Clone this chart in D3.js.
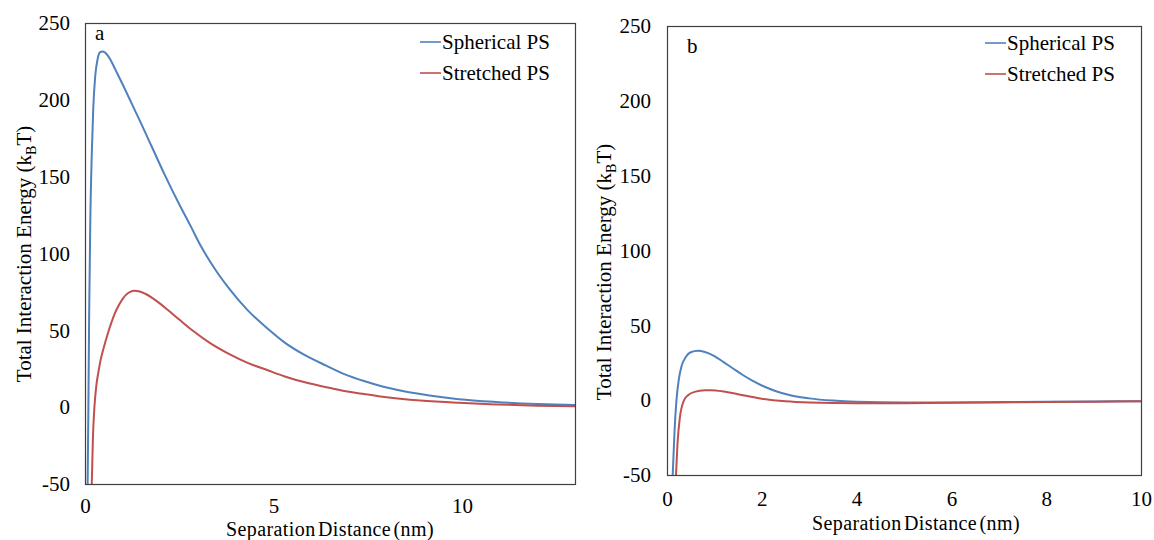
<!DOCTYPE html>
<html><head><meta charset="utf-8">
<script src="https://cdn.jsdelivr.net/npm/d3@7"></script>
<style>body{margin:0;background:#fff}svg{display:block}text{font-family:"Liberation Serif","Times New Roman",serif;fill:#000}</style>
</head><body><svg id="c" width="1154" height="540"></svg>
<script>
// ---- data ----
const seriesNames = ["Spherical PS", "Stretched PS"];
const seriesColors = ["#4F81BD", "#C0504D"];
const yTicks = [-50, 0, 50, 100, 150, 200, 250];
const xTicksA = [0, 5, 10];
const xTicksB = [0, 2, 4, 6, 8, 10];

// Panel a
const aSphX = [0.07,0.09,0.11,0.14,0.18,0.22,0.27,0.33,0.40,0.47,0.60,0.69,0.80,1.0,1.25,1.5,1.8,2.1,2.5,2.82,3.07,3.5,3.83,4.3,4.85,5.3,5.86,6.4,6.88,7.4,7.89,8.9,9.92,10.9,12,13];
const aSphY = [-50,0,60,120,165,195,215,226,231,231.5,229,225.5,220,210,197,184,168,152,132,117,105,88,77,63.5,51,42,33.5,27,21.5,17,13.5,8.5,5.2,3.4,2.1,1.4];
const aStrX = [0.18,0.21,0.25,0.30,0.35,0.40,0.50,0.60,0.70,0.80,0.90,1.0,1.1,1.2,1.3,1.45,1.6,1.8,2.0,2.2,2.5,2.82,3.3,3.83,4.3,4.85,5.3,5.86,6.4,6.88,7.4,7.89,8.9,9.92,10.9,12,13];
const aStrY = [-50,-20,0,14,22,29,39,47.5,55,61.5,66.5,70.5,73.4,75,75.7,75.3,73.8,70.8,67.2,63.2,57,50.5,42,34.5,29,24,20,16,13,10.5,8.5,6.8,4.3,2.8,1.8,1,0.6];

// Panel b
const bSphX = [0.12,0.16,0.20,0.25,0.30,0.40,0.50,0.65,0.80,1.0,1.2,1.4,1.6,1.8,2.0,2.3,2.6,3.0,3.5,4,5,6,7,8,9,10];
const bSphY = [-50,-20,0,14,22,29,32,33,32.2,29.5,25.3,21,16.8,13,9.8,6,3.3,1.2,-0.3,-1.1,-1.6,-1.5,-1.3,-1.1,-0.9,-0.7];
const bStrX = [0.19,0.22,0.27,0.36,0.45,0.60,0.80,0.93,1.2,1.5,2.0,2.5,3,4,5,6,7,8,9,10];
const bStrY = [-50,-30,-12,0,3.5,5.7,6.6,6.7,5.8,4,1,-0.8,-1.6,-2.1,-2,-1.8,-1.5,-1.2,-1,-0.8];

const svg = d3.select("#c");
const FS = 21;
const fmt = d => String(d);

function panel(cfg) {
  const x = d3.scaleLinear().domain(cfg.xDomain).range([cfg.l, cfg.r]);
  const y = d3.scaleLinear().domain([-50, 250]).range([cfg.b, cfg.t]);
  const g = svg.append("g");
  const clipId = "clip" + cfg.id;
  svg.append("clipPath").attr("id", clipId).append("rect")
    .attr("x", cfg.l).attr("y", cfg.t).attr("width", cfg.r - cfg.l).attr("height", cfg.b - cfg.t);

  const ya = g.append("g").attr("transform", `translate(${cfg.l},0)`)
    .call(d3.axisLeft(y).tickValues(yTicks).tickSize(0).tickPadding(cfg.yPad).tickFormat(fmt));
  ya.select(".domain").remove();
  ya.selectAll("text").style("font-family", '"Liberation Serif",serif').style("font-size", FS + "px").attr("fill", "#000");

  const xa = g.append("g").attr("transform", `translate(0,${cfg.b})`)
    .call(d3.axisBottom(x).tickValues(cfg.xTicks).tickSize(0).tickPadding(cfg.xPad).tickFormat(fmt));
  xa.select(".domain").remove();
  xa.selectAll("text").style("font-family", '"Liberation Serif",serif').style("font-size", FS + "px").attr("fill", "#000");

  const line = d3.line().x(d => x(d[0])).y(d => y(d[1])).curve(d3.curveMonotoneX);
  cfg.series.forEach((s, i) => {
    const pts = s.xs.map((v, k) => [v, s.ys[k]]);
    g.append("path").datum(pts).attr("d", line).attr("fill", "none")
      .attr("stroke", seriesColors[i]).attr("stroke-width", 2).attr("clip-path", `url(#${clipId})`);
  });

  g.append("rect").attr("x", cfg.l + 0.5).attr("y", cfg.t + 0.5)
    .attr("width", cfg.r - cfg.l).attr("height", cfg.b - cfg.t)
    .attr("fill", "none").attr("stroke", "#404040").attr("stroke-width", 1.2);

  seriesNames.forEach((n, i) => {
    const ly = cfg.legY[i];
    g.append("line").attr("x1", cfg.legX).attr("x2", cfg.legX + 21).attr("y1", ly).attr("y2", ly)
      .attr("stroke", seriesColors[i]).attr("stroke-width", 1.6);
    g.append("text").attr("x", cfg.legX + 22).attr("y", ly).attr("dy", "0.33em")
      .style("font-size", FS + "px").text(n);
  });

  g.append("text").attr("x", cfg.letter[0]).attr("y", cfg.letter[1]).style("font-size", FS + "px").text(cfg.id);

  g.append("text").attr("x", cfg.xTitle[0]).attr("y", cfg.xTitle[1]).attr("text-anchor", "middle")
    .style("font-size", "20px").style("letter-spacing", "0.4px").style("word-spacing", "-3px")
    .text("Separation Distance (nm)");
  const yt = g.append("text").attr("transform", `translate(${cfg.yTitle[0]},${cfg.yTitle[1]}) rotate(-90)`)
    .attr("text-anchor", "middle").attr("dy", "0.33em").style("font-size", FS + "px");
  yt.append("tspan").text("Total Interaction Energy (k");
  yt.append("tspan").text("B").style("font-size", "14px").attr("dy", "5");
  yt.append("tspan").text("T)").attr("dy", "-5");
}

panel({
  id: "a", l: 85, r: 575, t: 23, b: 484, xDomain: [0, 13], xTicks: xTicksA, yPad: 15, xPad: 14,
  series: [{xs: aSphX, ys: aSphY}, {xs: aStrX, ys: aStrY}],
  legX: 420, legY: [42, 73], letter: [95, 40], xTitle: [330, 535.5], yTitle: [24, 254]
});
panel({
  id: "b", l: 667, r: 1141, t: 26, b: 475, xDomain: [0, 10], xTicks: xTicksB, yPad: 16, xPad: 16,
  series: [{xs: bSphX, ys: bSphY}, {xs: bStrX, ys: bStrY}],
  legX: 985, legY: [43, 74], letter: [687, 53], xTitle: [916, 530], yTitle: [604, 272]
});
</script></body></html>
